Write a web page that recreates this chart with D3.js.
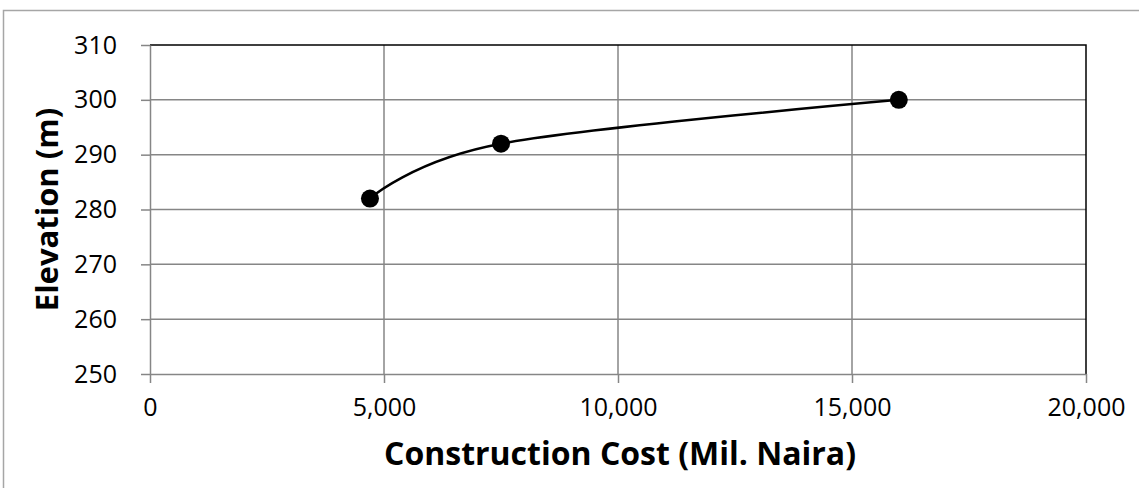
<!DOCTYPE html>
<html><head><meta charset="utf-8">
<script src="https://cdn.jsdelivr.net/npm/d3@7"></script>
<style>
html,body{margin:0;padding:0;background:#fff;}
svg{display:block;}
text{font-family:"Open Sans",Lato,sans-serif;fill:#000;}
</style></head>
<body>
<script>
const costs = [4700, 7500, 16000];
const elevations = [282, 292, 300];
const xTicks = [0, 5000, 10000, 15000, 20000];
const yTicks = [250, 260, 270, 280, 290, 300, 310];
const xTitle = "Construction Cost (Mil. Naira)";
const yTitle = "Elevation (m)";

const W = 1139, H = 488;
const m = {left:150, right:1086, top:45, bottom:374};
const FONT = "'Open Sans',Lato,sans-serif";
const svg = d3.select("body").append("svg").attr("width", W).attr("height", H);

svg.append("rect").attr("x", 3.5).attr("y", 10.5).attr("width", 1140).attr("height", 485)
  .attr("fill", "#fff").attr("stroke", "#a6a6a6").attr("stroke-width", 1.5);

const x = d3.scaleLinear().domain([0, 20000]).range([m.left, m.right]);
const y = d3.scaleLinear().domain([250, 310]).range([m.bottom, m.top]);

// gridlines
svg.append("g").selectAll("line").data(yTicks.filter(d => d > 250 && d < 310)).join("line")
  .attr("x1", m.left).attr("x2", m.right).attr("y1", d => y(d)).attr("y2", d => y(d))
  .attr("stroke", "#868686").attr("stroke-width", 1.5);
svg.append("g").selectAll("line").data(xTicks.filter(d => d > 0 && d < 20000)).join("line")
  .attr("y1", m.top).attr("y2", m.bottom).attr("x1", d => x(d)).attr("x2", d => x(d))
  .attr("stroke", "#868686").attr("stroke-width", 1.5);

// top & right border (black)
svg.append("path").attr("d", `M${m.left},${m.top}H${m.right}V${m.bottom}`)
  .attr("fill", "none").attr("stroke", "#000").attr("stroke-width", 1.5);

// axes
const fmt = d3.format(",");
const xAxis = svg.append("g").attr("transform", `translate(0,${m.bottom})`)
  .call(d3.axisBottom(x).tickValues(xTicks).tickFormat(fmt).tickSizeInner(9).tickSizeOuter(0).tickPadding(15));
const yAxis = svg.append("g").attr("transform", `translate(${m.left},0)`)
  .call(d3.axisLeft(y).tickValues(yTicks).tickSizeInner(9).tickSizeOuter(0).tickPadding(24));
[xAxis, yAxis].forEach(a => {
  a.attr("font-family", FONT).attr("font-size", 25);
  a.select(".domain").attr("stroke", "#868686").attr("stroke-width", 1.5);
  a.selectAll(".tick line").attr("stroke", "#868686").attr("stroke-width", 1.5);
  a.selectAll(".tick text").attr("fill", "#000");
});

// line
const pts = costs.map((c, i) => [x(c), y(elevations[i])]);
svg.append("path").attr("d", d3.line().curve(d3.curveCardinal.tension(0))(pts))
  .attr("fill", "none").attr("stroke", "#000").attr("stroke-width", 2.5);
svg.append("g").selectAll("circle").data(pts).join("circle")
  .attr("cx", d => d[0]).attr("cy", d => d[1]).attr("r", 9).attr("fill", "#000");

// titles
svg.append("text").attr("x", (m.left + m.right) / 2 + 2).attr("y", 465).attr("text-anchor", "middle")
  .attr("font-size", 32).attr("font-weight", "bold").text(xTitle);
svg.append("text").attr("transform", `translate(58,${(m.top + m.bottom) / 2}) rotate(-90)`)
  .attr("text-anchor", "middle").attr("font-size", 31).attr("font-weight", "bold").text(yTitle);
</script>
</body></html>
